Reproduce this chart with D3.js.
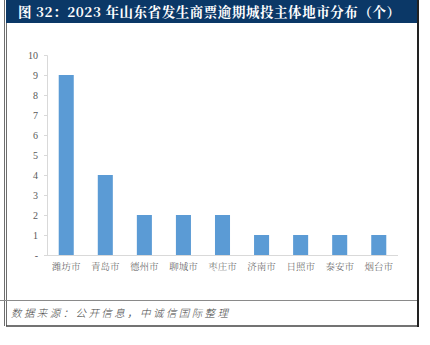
<!DOCTYPE html>
<html>
<head>
<meta charset="utf-8">
<script src="https://cdn.jsdelivr.net/npm/d3@7/dist/d3.min.js"></script>
<style>
  html, body { margin: 0; padding: 0; background: #fff; }
  svg { display: block; }
</style>
</head>
<body>
<svg id="chart" width="430" height="345"></svg>
<script>
// Cities with overdue commercial-paper issuers (2023, Shandong)
const cities = ["潍坊市", "青岛市", "德州市", "聊城市", "枣庄市", "济南市", "日照市", "泰安市", "烟台市"];
const counts = [9, 4, 2, 2, 2, 1, 1, 1, 1];
const yTicks = [0, 1, 2, 3, 4, 5, 6, 7, 8, 9, 10];
const titleText = "图 32：2023 年山东省发生商票逾期城投主体地市分布（个）";
const sourceText = "数据来源：公开信息，中诚信国际整理";

const svg = d3.select("#chart");

// Frame: header band, double left rule, right rule, footer separators
svg.append("rect").attr("x", 6).attr("y", 0).attr("width", 411).attr("height", 23).attr("fill", "#0b3867");
svg.append("line").attr("x1", 4.5).attr("x2", 4.5).attr("y1", 0).attr("y2", 326).attr("stroke", "#6e6e6e").attr("stroke-width", 1);
svg.append("line").attr("x1", 6.5).attr("x2", 6.5).attr("y1", 23).attr("y2", 326).attr("stroke", "#6e6e6e").attr("stroke-width", 1);
svg.append("line").attr("x1", 418).attr("x2", 418).attr("y1", 0).attr("y2", 327).attr("stroke", "#222").attr("stroke-width", 2);
svg.append("line").attr("x1", 0).attr("x2", 417).attr("y1", 300.5).attr("y2", 300.5).attr("stroke", "#8a8a8a").attr("stroke-width", 1);
svg.append("line").attr("x1", 6).attr("x2", 417).attr("y1", 326).attr("y2", 326).attr("stroke", "#444").attr("stroke-width", 1.5);

svg.append("text")
  .attr("x", 18).attr("y", 17)
  .attr("fill", "#fff")
  .attr("font-family", "'Noto Serif CJK SC', 'Noto Sans CJK SC', serif")
  .attr("font-weight", "bold")
  .attr("font-size", 13.5)
  .attr("textLength", 382)
  .attr("lengthAdjust", "spacing")
  .text(titleText);

svg.append("text")
  .attr("x", 11).attr("y", 317)
  .attr("fill", "#444")
  .attr("font-family", "'Noto Sans CJK SC', sans-serif")
  .attr("font-style", "italic")
  .attr("font-weight", 300)
  .attr("font-size", 10.5)
  .attr("textLength", 217)
  .attr("lengthAdjust", "spacing")
  .text(sourceText);

// Plot area
const plotLeft = 47, plotRight = 398, plotTop = 55, plotBottom = 255;

const x = d3.scaleBand().domain(cities).range([plotLeft, plotRight]).paddingInner(0.615).paddingOuter(0.3);
const y = d3.scaleLinear().domain([0, 10]).range([plotBottom, plotTop]);

const yAxis = d3.axisLeft(y)
  .tickValues(yTicks)
  .tickSize(3)
  .tickPadding(6)
  .tickFormat(d => d === 0 ? "-" : d);

const gy = svg.append("g").attr("transform", `translate(${plotLeft},0)`).call(yAxis);
gy.select(".domain").attr("stroke", "#d9d9d9");
gy.selectAll(".tick line").attr("stroke", "#d9d9d9");
gy.selectAll(".tick text")
  .attr("fill", "#595959")
  .attr("font-family", "'Liberation Serif', 'Times New Roman', serif")
  .attr("font-size", 10);

const xAxis = d3.axisBottom(x).tickSize(0).tickPadding(8);
const gx = svg.append("g").attr("transform", `translate(0,${plotBottom})`).call(xAxis);
gx.select(".domain").attr("stroke", "#d9d9d9").attr("d", `M${plotLeft},0.5H${plotRight}`);
gx.selectAll(".tick text")
  .attr("fill", "#595959")
  .attr("font-family", "'Noto Serif CJK SC', 'Noto Sans CJK SC', serif")
  .attr("font-weight", 300)
  .attr("font-size", 9.5);

svg.append("g")
  .selectAll("rect")
  .data(counts)
  .join("rect")
  .attr("x", (d, i) => x(cities[i]))
  .attr("y", d => y(d))
  .attr("width", x.bandwidth())
  .attr("height", d => y(0) - y(d))
  .attr("fill", "#5b9bd5");
</script>
</body>
</html>
